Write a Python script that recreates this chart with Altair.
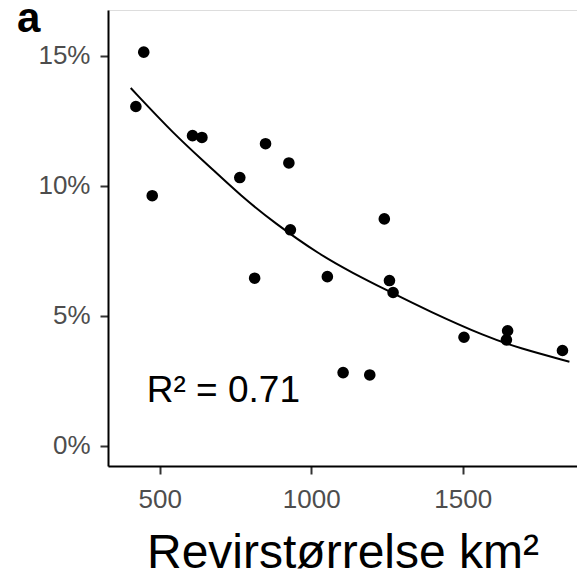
import altair as alt
import pandas as pd

# data
size_km2 = [447, 421, 475, 608, 639, 764, 849, 926, 931, 1241,
            813, 1053, 1258, 1270, 1504, 1648, 1644, 1829, 1105, 1193]
share = [0.1514, 0.1305, 0.0962, 0.1193, 0.1186, 0.1032, 0.1162, 0.1088, 0.0831, 0.0873,
         0.0645, 0.0651, 0.0636, 0.0590, 0.0418, 0.0443, 0.0408, 0.0367, 0.0282, 0.0273]

# fitted curve
fit_x = [404, 549, 659, 769, 879, 1028, 1137, 1247, 1390, 1577, 1687, 1852]
fit_y = [0.1376, 0.1196, 0.1080, 0.0960, 0.0857, 0.0735, 0.0665, 0.0600, 0.0517, 0.0420,
         0.0376, 0.0324]

x_ticks = [500, 1000, 1500]
y_ticks = [0, 0.05, 0.10, 0.15]
x_domain = [329, 1877]
y_domain = [-0.0077, 0.1676]
ann_text = ["R² = 0.71"]
ann_x = [457]
ann_y = [0.0169]
panel_label = ["a"]

df = pd.DataFrame({"x": size_km2, "y": share})
fit_df = pd.DataFrame({"x": fit_x, "y": fit_y})
ann = pd.DataFrame({"x": ann_x, "y": ann_y, "t": ann_text})
panel = pd.DataFrame({"t": panel_label})

xs = alt.Scale(domain=x_domain, nice=False, zero=False)
ys = alt.Scale(domain=y_domain, nice=False, zero=False)

axis_common = dict(
    domainColor="black", domainWidth=2, tickColor="#333333", tickWidth=2,
    tickSize=8, labelColor="#4D4D4D", labelFontSize=26, labelFont="Liberation Sans",
    grid=False, titleFont="Liberation Sans",
)

x_enc = alt.X("x:Q", scale=xs, axis=alt.Axis(values=x_ticks, format="d", title="Revirstørrelse km²",
                                              titleFontSize=48, titleFontWeight="normal",
                                              titleColor="black", titlePadding=17,
                                              labelPadding=12, **axis_common))
y_enc = alt.Y("y:Q", scale=ys, axis=alt.Axis(values=y_ticks, format="%", title=None,
                                              labelPadding=10, **axis_common))

points = alt.Chart(df).mark_circle(size=135, color="black", opacity=1).encode(x=x_enc, y=y_enc)

fit = alt.Chart(fit_df).mark_line(color="black", strokeWidth=2, interpolate="basis").encode(
    x=alt.X("x:Q", scale=xs), y=alt.Y("y:Q", scale=ys))

label = alt.Chart(ann).mark_text(
    align="left", baseline="alphabetic", fontSize=37, font="Liberation Sans", color="black"
).encode(x=alt.X("x:Q", scale=xs), y=alt.Y("y:Q", scale=ys), text="t:N")

panel_txt = alt.Chart(panel).mark_text(
    align="left", baseline="alphabetic", fontSize=42, fontWeight="bold",
    font="Liberation Sans", color="black"
).encode(x=alt.value(-91), y=alt.value(22), text="t:N")

chart = alt.layer(fit, points, label, panel_txt).properties(
    width=469, height=456,
    autosize=alt.AutoSizeParams(type="none"),
    padding={"left": 100, "top": 2, "right": 0, "bottom": 110},
).configure_view(stroke=None).configure(background="white")

chart.save("out.html", embed_options={"renderer": "svg", "actions": False})
